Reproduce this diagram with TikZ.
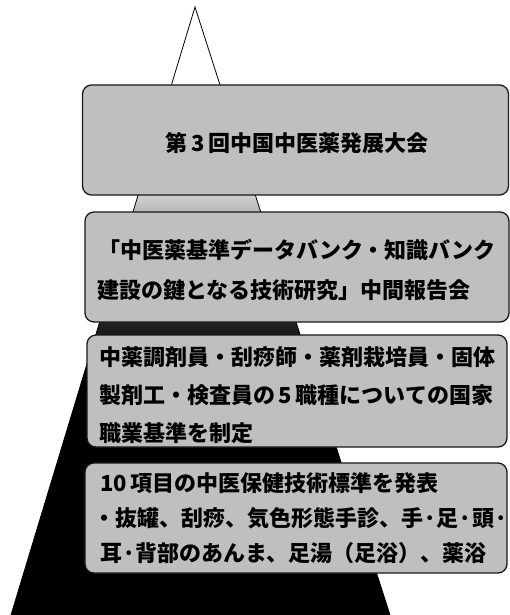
\documentclass[tikz,border=0pt]{standalone}
\usepackage{fontspec}
\newfontfamily\jp{Noto Sans CJK JP}
\pgfdeclareverticalshading{trishade}{100bp}{color(0bp)=(black); color(44bp)=(black); color(50bp)=(black!85); color(55bp)=(black!50); color(59bp)=(black!22); color(63bp)=(white); color(100bp)=(white)}
\begin{document}
\begin{tikzpicture}[x=1pt,y=-1pt,
  panel/.style={draw=black!90, line width=1.3pt, rounded corners=9pt, fill=gray!50, inner sep=0pt},
  txt/.style={anchor=west, inner sep=0pt, font=\jp\bfseries\fontsize{22}{26}\selectfont},
]
\useasboundingbox (0,0) rectangle (510,615);
\coordinate (apex) at (195,7);
\coordinate (bl) at (11,615);
\coordinate (br) at (390,615);
\shade[shading=trishade, draw=black, line width=0.8pt] (apex) -- (br) -- (bl) -- cycle;

\node[panel, minimum width=426pt, minimum height=110pt] (b1) at (295.5,140) {};
\node[panel, minimum width=424pt, minimum height=110pt] (b2) at (297,267) {};
\node[panel, minimum width=420pt, minimum height=112pt] (b3) at (297,391) {};
\node[panel, minimum width=422pt, minimum height=110pt] (b4) at (296,518) {};

\node[txt, anchor=center] (t1) at (297,143) {第\,3\,回中国中医薬発展大会};
\node[txt] (t2a) at (98,250) {「中医薬基準データバンク・知識バンク};
\node[txt] (t2b) at (97,290) {建設の鍵となる技術研究」中間報告会};
\node[txt] (t3a) at (99,357) {中薬調剤員・刮痧師・薬剤栽培員・固体};
\node[txt] (t3b) at (99,395) {製剤工・検査員の\,5\,職種についての国家};
\node[txt] (t3c) at (99,433) {職業基準を制定};
\node[txt] (t4a) at (100,483) {10\,項目の中医保健技術標準を発表};
\node[txt] (t4b) at (93,518) {・抜罐、刮痧、気色形態手診、手·足·頭·};
\node[txt] (t4c) at (100,553) {耳·背部のあんま、足湯（足浴）、薬浴};
\end{tikzpicture}
\end{document}
